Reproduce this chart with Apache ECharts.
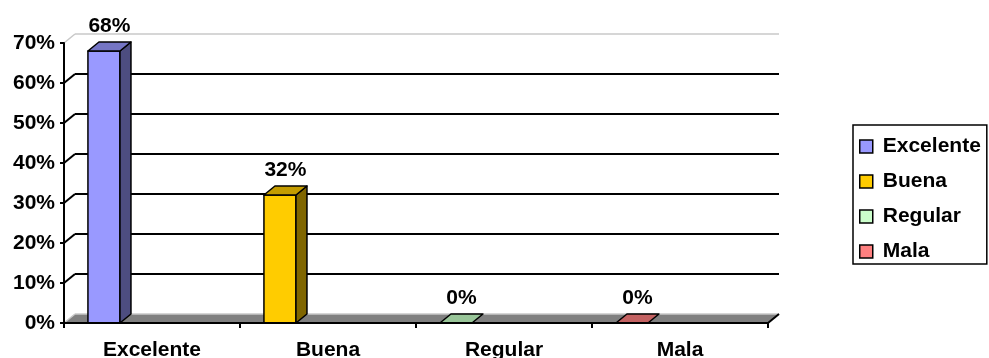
<!DOCTYPE html>
<html>
<head>
<meta charset="utf-8">
<script src="https://cdn.jsdelivr.net/npm/echarts@6/dist/echarts.min.js"></script>
<style>
  html, body { margin: 0; padding: 0; background: #fff; }
  #chart { width: 989px; height: 358px; }
</style>
</head>
<body>
<div id="chart"></div>
<script>
// Survey rating breakdown (percent of answers)
const categories = ['Excelente', 'Buena', 'Regular', 'Mala'];
const values = [68, 32, 0, 0];
const yTicks = [0, 10, 20, 30, 40, 50, 60, 70];

// Face colours for each column: front, top and right side
const frontColors = ['#9999FF', '#FFCC00', '#CCFFCC', '#FF8080'];
const topColors = ['#7575C4', '#C49C00', '#99C699', '#C46262'];
const sideColors = ['#4D4D80', '#806600', '#668066', '#804040'];

// Depth offset of the pseudo-3D projection
const DX = 11, DY = -9;
const FONT = {
  fontFamily: '"Liberation Sans", Arial, sans-serif',
  fontWeight: 'bold',
  fontSize: 21,
  color: '#000'
};

function plotEdges(api) {
  const band = api.size([1, 0])[0];
  const left = api.coord([0, 0])[0] - band / 2;
  const right = api.coord([categories.length - 1, 0])[0] + band / 2;
  return { band, left, right };
}

// Back wall, side wall gridlines and the floor slab
function renderWalls(params, api) {
  const v = api.value(1);
  const { left, right } = plotEdges(api);
  const y = api.coord([0, v])[1];
  if (v === yTicks[0]) {
    return {
      type: 'group',
      children: [
        { type: 'polygon', shape: { points: [[left, y], [left + DX, y + DY], [right + DX, y + DY], [right, y]] },
          style: { fill: '#808080' } },
        { type: 'line', shape: { x1: left + DX, y1: y + DY, x2: right + DX, y2: y + DY },
          style: { stroke: '#C8C8C8', lineWidth: 1.5 } },
        { type: 'line', shape: { x1: left, y1: y, x2: left + DX, y2: y + DY },
          style: { stroke: '#C8C8C8', lineWidth: 1.5 } },
        { type: 'line', shape: { x1: right, y1: y, x2: right + DX, y2: y + DY },
          style: { stroke: '#000', lineWidth: 2 } }
      ]
    };
  }
  const isTop = v === yTicks[yTicks.length - 1];
  const stroke = isTop ? '#C8C8C8' : '#000';
  const lw = isTop ? 1.5 : 2;
  return {
    type: 'group',
    children: [
      { type: 'line', shape: { x1: left, y1: y, x2: left + DX, y2: y + DY }, style: { stroke, lineWidth: lw } },
      { type: 'line', shape: { x1: left + DX, y1: y + DY, x2: right + DX, y2: y + DY }, style: { stroke, lineWidth: lw } }
    ]
  };
}

function makeBarRenderer(i) {
  return function (params, api) {
    const x = api.value(0);
    const v = api.value(1);
    const base = api.coord([x, 0]);
    const topPt = api.coord([x, v]);
    const band = api.size([1, 0])[0];
    const x0 = base[0] - band / 2 + band * 0.136;
    const x1 = x0 + band * 0.182;
    const yb = base[1];
    const yt = topPt[1];
    const edge = { stroke: '#000', lineWidth: 1.5, lineJoin: 'round' };
    const children = [];
    if (yb - yt > 0.5) {
      children.push({ type: 'rect', shape: { x: x0, y: yt, width: x1 - x0, height: yb - yt },
        style: Object.assign({ fill: frontColors[i] }, edge) });
      children.push({ type: 'polygon', shape: { points: [[x1, yt], [x1 + DX, yt + DY], [x1 + DX, yb + DY], [x1, yb]] },
        style: Object.assign({ fill: sideColors[i] }, edge) });
    }
    children.push({ type: 'polygon', shape: { points: [[x0, yt], [x0 + DX, yt + DY], [x1 + DX, yt + DY], [x1, yt]] },
      style: Object.assign({ fill: topColors[i] }, edge) });
    children.push({ type: 'text', x: (x0 + x1) / 2 + DX / 2, y: yt + DY - 5,
      style: { text: v + '%', align: 'center', verticalAlign: 'bottom',
        font: 'bold 21px "Liberation Sans", Arial, sans-serif', fill: '#000' } });
    return { type: 'group', children };
  };
}

const barSeries = categories.map((name, i) => ({
  name,
  type: 'custom',
  coordinateSystem: 'cartesian2d',
  renderItem: makeBarRenderer(i),
  encode: { x: 0, y: 1 },
  clip: false,
  z: 3,
  itemStyle: { color: frontColors[i], borderColor: '#000', borderWidth: 1.5 },
  data: [[i, values[i]]]
}));

const chart = echarts.init(document.getElementById('chart'), null, { renderer: 'canvas' });
chart.setOption({
  animation: false,
  backgroundColor: '#fff',
  grid: { left: 64, right: 221, top: 43, bottom: 35, containLabel: false, outerBoundsMode: 'none' },
  xAxis: {
    type: 'category',
    data: categories,
    z: 4,
    axisLine: { show: true, lineStyle: { color: '#000', width: 2 } },
    axisTick: { show: true, length: 5, lineStyle: { color: '#000', width: 2 } },
    axisLabel: Object.assign({ margin: 17, interval: 0 }, FONT),
    splitLine: { show: false }
  },
  yAxis: {
    type: 'value',
    min: 0,
    max: 70,
    interval: 10,
    z: 4,
    axisLine: { show: true, lineStyle: { color: '#000', width: 2 } },
    axisTick: { show: true, length: 4, lineStyle: { color: '#000', width: 2 } },
    axisLabel: Object.assign({ margin: 9, formatter: '{value}%' }, FONT),
    splitLine: { show: false }
  },
  legend: {
    orient: 'vertical',
    left: 853,
    top: 125,
    selectedMode: false,
    borderColor: '#000',
    borderWidth: 1.5,
    padding: [11, 6, 2, 6],
    itemGap: 14,
    itemWidth: 13,
    itemHeight: 13,
    textStyle: Object.assign({ lineHeight: 21, padding: [0, 0, 0, 5] }, FONT),
    data: categories.map((name, i) => ({
      name,
      icon: 'rect',
      itemStyle: { color: frontColors[i], borderColor: '#000', borderWidth: 1.5 }
    }))
  },
  series: [
    {
      name: 'walls',
      type: 'custom',
      coordinateSystem: 'cartesian2d',
      renderItem: renderWalls,
      encode: { x: 0, y: 1 },
      clip: false,
      silent: true,
      z: 1,
      data: yTicks.map(v => [0, v])
    }
  ].concat(barSeries)
});
</script>
</body>
</html>
